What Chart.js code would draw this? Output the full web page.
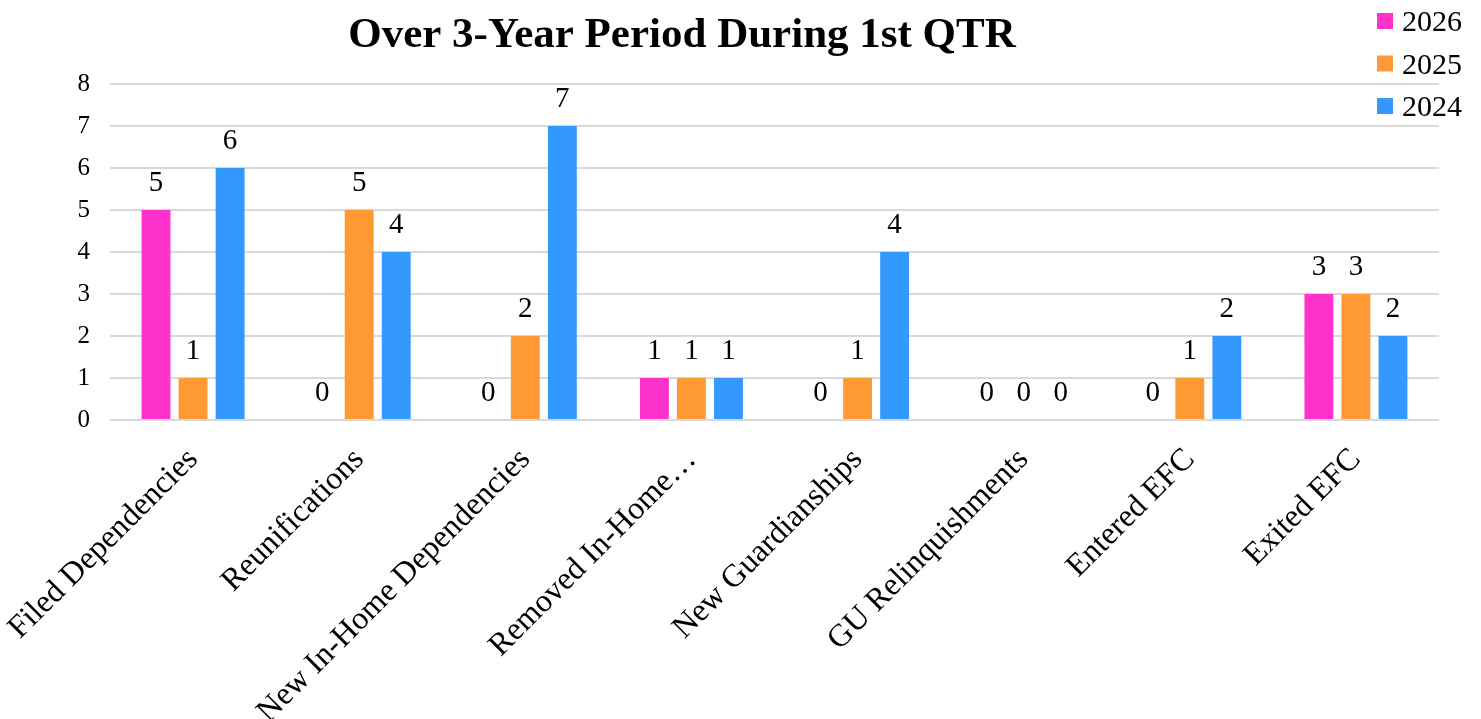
<!DOCTYPE html>
<html><head><meta charset="utf-8">
<script src="https://cdn.jsdelivr.net/npm/chart.js@4/dist/chart.umd.min.js"></script>
<style>html,body{margin:0;padding:0;background:#fff;}</style>
</head><body>
<canvas id="c" width="1481" height="719"></canvas>
<script>
const categories = ['Filed Dependencies','Reunifications','New In-Home Dependencies','Removed In-Home\u2026','New Guardianships','GU Relinquishments','Entered EFC','Exited EFC'];
const seriesNames = ['2026','2025','2024'];
const values2026 = [5,0,0,1,0,0,0,3];
const values2025 = [1,5,2,1,1,0,1,3];
const values2024 = [6,4,7,1,4,0,2,2];
const seriesColors = ['#FF33CC','#FF9933','#3399FF'];
const titleText = 'Over 3-Year Period During 1st QTR';
const yMin = 0, yMax = 8, yStep = 1;

const SERIF = '"Liberation Serif", "Times New Roman", serif';

const valueLabels = {
  id: 'valueLabels',
  afterDatasetsDraw(chart) {
    const ctx = chart.ctx;
    ctx.save();
    ctx.font = '29px ' + SERIF;
    ctx.fillStyle = '#000';
    ctx.textAlign = 'center';
    ctx.textBaseline = 'alphabetic';
    chart.data.datasets.forEach((ds, i) => {
      chart.getDatasetMeta(i).data.forEach((bar, j) => {
        ctx.fillText(String(ds.data[j]), bar.x, bar.y - 19);
      });
    });
    ctx.restore();
  }
};

const titleAndLegend = {
  id: 'titleAndLegend',
  afterDraw(chart) {
    const ctx = chart.ctx;
    ctx.save();
    ctx.fillStyle = '#000';
    ctx.font = 'bold 43px ' + SERIF;
    ctx.textAlign = 'center';
    ctx.textBaseline = 'alphabetic';
    ctx.fillText(titleText, 682, 47);
    ctx.font = '30px ' + SERIF;
    ctx.textAlign = 'left';
    chart.data.datasets.forEach((ds, i) => {
      const cy = 21 + i * 42.5;
      ctx.fillStyle = '#fff';
      ctx.fillRect(1370, cy - 19, 111, 36);
      ctx.fillStyle = ds.backgroundColor;
      ctx.fillRect(1377, cy - 8, 16, 16);
      ctx.fillStyle = '#000';
      ctx.fillText(ds.label, 1402, cy + 10);
    });
    ctx.restore();
  }
};

new Chart(document.getElementById('c'), {
  type: 'bar',
  data: {
    labels: categories,
    datasets: [
      { label: seriesNames[0], data: values2026, backgroundColor: seriesColors[0] },
      { label: seriesNames[1], data: values2025, backgroundColor: seriesColors[1] },
      { label: seriesNames[2], data: values2024, backgroundColor: seriesColors[2] }
    ]
  },
  options: {
    responsive: false,
    animation: false,
    devicePixelRatio: 1,
    categoryPercentage: 0.669,
    barPercentage: 0.78,
    layout: { padding: { top: 84, right: 42, left: 0, bottom: 0 } },
    plugins: {
      legend: { display: false },
      title: { display: false },
      tooltip: { enabled: false }
    },
    scales: {
      x: {
        grid: { display: false },
        border: { display: false },
        afterFit(scale) { scale.height = 299; scale.paddingLeft = 0; scale.paddingRight = 0; },
        ticks: {
          color: '#000',
          font: { family: SERIF, size: 32 },
          minRotation: 45, maxRotation: 45,
          autoSkip: false,
          padding: 13
        }
      },
      y: {
        min: yMin, max: yMax,
        grid: { color: '#d9d9d9', lineWidth: 2, drawTicks: false },
        border: { display: false },
        afterFit(scale) { scale.width = 110; },
        ticks: {
          stepSize: yStep,
          color: '#000',
          font: { family: SERIF, size: 25 },
          padding: 20
        }
      }
    }
  },
  plugins: [valueLabels, titleAndLegend]
});
</script>
</body></html>
